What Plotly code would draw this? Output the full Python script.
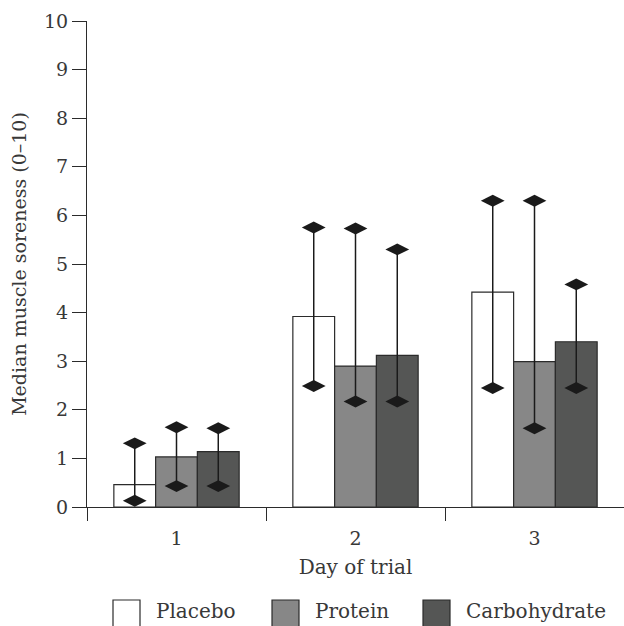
import plotly.graph_objects as go

days = [1, 2, 3]
day_labels = ["1", "2", "3"]
groups = ["Placebo", "Protein", "Carbohydrate"]
placebo_median = [0.46, 3.92, 4.42]
protein_median = [1.03, 2.90, 2.99]
carb_median = [1.14, 3.12, 3.40]
placebo_low = [0.13, 2.49, 2.45]
placebo_high = [1.31, 5.75, 6.30]
protein_low = [0.43, 2.17, 1.62]
protein_high = [1.64, 5.73, 6.30]
carb_low = [0.43, 2.17, 2.45]
carb_high = [1.62, 5.30, 4.58]
y_ticks = list(range(0, 11))

colors = ["#ffffff", "#878787", "#555655"]
edge = "#2b2b2b"
txt = "#383838"
FONT = "DejaVu Serif"

medians = [placebo_median, protein_median, carb_median]
lows = [placebo_low, protein_low, carb_low]
highs = [placebo_high, protein_high, carb_high]

bargap = 0.30
bw = (1 - bargap) / 3
offsets = [-bw, 0.0, bw]

fig = go.Figure()
for name, med, col in zip(groups, medians, colors):
    fig.add_trace(go.Bar(x=days, y=med, name=name, marker=dict(color=col, line=dict(color=edge, width=1.2)),
                         showlegend=False))

for name, lo, hi, off in zip(groups, lows, highs, offsets):
    xs, ys = [], []
    for d, l, h in zip(days, lo, hi):
        xs += [d + off, d + off, None]
        ys += [l, h, None]
    fig.add_trace(go.Scatter(x=xs, y=ys, mode="lines+markers", name=name + " range", showlegend=False,
                             line=dict(color="#1a1a1a", width=1.5),
                             marker=dict(symbol="diamond-wide", size=17, color="#1a1a1a")))

# manual legend (large swatches)
W, H = 537.0, 486.0
legend_x = [113, 272, 423]
for name, col, lx in zip(groups, colors, legend_x):
    x0 = (lx - 87) / W
    x1 = (lx + 27 - 87) / W
    fig.add_shape(type="rect", xref="paper", yref="paper", x0=x0, x1=x1,
                  y0=(507 - 600) / H, y1=(507 - 627) / H,
                  fillcolor=col, line=dict(color=edge, width=1.2))
    fig.add_annotation(xref="paper", yref="paper", x=(lx + 41 - 87) / W, y=(507 - 611) / H,
                       text=name, showarrow=False, xanchor="left", yanchor="middle",
                       font=dict(family=FONT, size=20, color=txt))

fig.update_layout(
    width=624, height=626,
    margin=dict(l=87, r=0, t=21, b=119),
    barmode="group", bargap=bargap, bargroupgap=0,
    plot_bgcolor="white", paper_bgcolor="white",
    font=dict(family=FONT, size=19, color=txt),
    showlegend=False,
)
fig.update_xaxes(
    range=[0.5, 3.5], tickvals=days, ticktext=day_labels, ticks="", ticklabelstandoff=14,
    showline=True, linecolor=edge, linewidth=1.2, showgrid=False, zeroline=False,
    minor=dict(tick0=0.5, dtick=1, ticks="outside", ticklen=13, tickcolor=edge, tickwidth=1.2, showgrid=False),
    title=dict(text="Day of trial", font=dict(size=20), standoff=12),
    tickfont=dict(size=19),
)
fig.update_yaxes(
    range=[0, 10], tickvals=y_ticks, ticks="outside", ticklen=14, tickcolor=edge, tickwidth=1.2,
    showline=True, linecolor=edge, linewidth=1.2, showgrid=False, zeroline=False,
    title=dict(text="Median muscle soreness (0–10)", font=dict(size=19), standoff=12),
    tickfont=dict(size=19),
)
fig.write_html("out.html", config={"displayModeBar": False},
               post_script="document.body.style.margin='0';document.body.style.overflow='hidden';")
